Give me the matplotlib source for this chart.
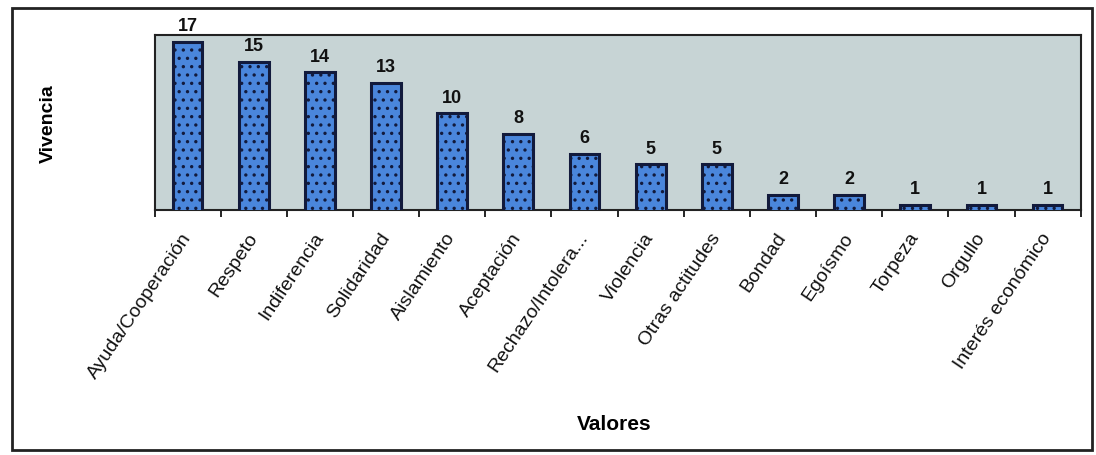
import matplotlib
matplotlib.use("Agg")
import matplotlib.pyplot as plt
from matplotlib.patches import Rectangle
import numpy as np

categories = ["Ayuda/Cooperación", "Respeto", "Indiferencia", "Solidaridad",
              "Aislamiento", "Aceptación", "Rechazo/Intolera...", "Violencia",
              "Otras actitudes", "Bondad", "Egoísmo", "Torpeza", "Orgullo",
              "Interés económico"]
values = [17, 15, 14, 13, 10, 8, 6, 5, 5, 2, 2, 1, 1, 1]

plt.rcParams['font.family'] = ['Liberation Sans', 'DejaVu Sans']
plt.rcParams['hatch.linewidth'] = 1.2

fig = plt.figure(figsize=(10.96, 4.56), dpi=100)
fig.patch.set_facecolor('white')
ax = fig.add_axes([0.141, 0.537, 0.845, 0.385])
ax.set_facecolor('#c7d4d5')

x = np.arange(len(categories))
bars = ax.bar(x, values, width=0.45, color='#4a86dc', edgecolor='#121a3c',
              linewidth=2.2, hatch='..', zorder=3)
for xi, v in zip(x, values):
    ax.text(xi, v + 0.75, str(v), ha='center', va='bottom', fontsize=13,
            fontweight='bold', color='#111111')

ax.set_xlim(-0.5, len(categories) - 0.5)
ax.set_ylim(0.5, 17.7)
ax.set_yticks([])
ax.set_xticks(x)
ax.set_xticklabels(categories, rotation=56, ha='right', va='center',
                   rotation_mode='anchor', fontsize=14, color='#111111')
ax.tick_params(axis='x', which='major', length=0, pad=17)
ax.set_xticks(np.arange(-0.5, len(categories), 1.0), minor=True)
ax.tick_params(axis='x', which='minor', length=5, width=1.2, direction='out')
for s in ax.spines.values():
    s.set_linewidth(1.5)
    s.set_color('#222222')

ax.set_ylabel('Vivencia', fontsize=14, fontweight='bold', labelpad=70)
fig.text(0.56, 0.07, 'Valores', fontsize=15, fontweight='bold', ha='center',
         va='center')

fig.patches.append(Rectangle((0.011, 0.012), 0.985, 0.968, transform=fig.transFigure,
                             fill=False, edgecolor='#222222', linewidth=2))

fig.savefig('out.png', dpi=100)
